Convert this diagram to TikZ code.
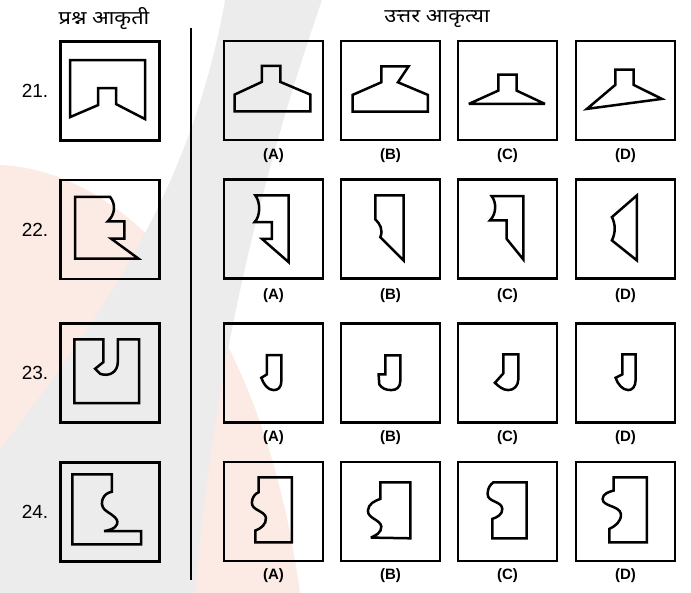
\documentclass[tikz,border=0pt]{standalone}
\usepackage{fontspec}
\setmainfont{Liberation Sans}
\newfontfamily\deva[Script=Devanagari]{Noto Sans}
\definecolor{wmpink}{HTML}{FCEAE5}
\definecolor{wmgray}{HTML}{ECECEC}
\begin{document}
\begin{tikzpicture}[x=1pt,y=-1pt,
  fig/.style={draw=black,line width=2.8pt,minimum size=99pt,inner sep=0pt},
  shp/.style={draw=black,line width=2.5pt,line join=miter,miter limit=4},
  qnum/.style={font=\fontsize{19}{19}\selectfont,anchor=center},
  lab/.style={font=\bfseries\fontsize{15}{15}\selectfont},
  head/.style={font=\deva\fontsize{19}{19}\selectfont,xscale=1.15}]
\useasboundingbox (0,0) rectangle (691,593);
% faint watermark
\fill[wmpink] (0,165) .. controls (120,170) and (260,300) .. (300,593) -- (0,593) -- cycle;
\fill[wmgray] (225,0) -- (322,0) .. controls (270,150) and (215,350) .. (195,593) -- (0,593) -- (0,450) .. controls (90,330) and (190,200) .. (225,0) -- cycle;
% header
\node[head] (h1) at (104,19) {प्रश्न आकृती};
\node[head] (h2) at (437,19) {उत्तर आकृत्या};
\coordinate (vt) at (191,28);
\coordinate (vb) at (191,580);
\draw[line width=1.6pt] (vt) -- (vb);
% question numbers
\node[qnum] (n21) at (35,91) {21.};
\node[qnum] (n22) at (35,230) {22.};
\node[qnum] (n23) at (35,373) {23.};
\node[qnum] (n24) at (35,512) {24.};
% question boxes
\node[fig] (q21) at (110,91) {};
\node[fig] (q22) at (110,229.5) {};
\node[fig] (q23) at (110,373) {};
\node[fig] (q24) at (110,512) {};
% answer boxes
\foreach \r/\y/\ly in {21/90.5/156,22/229/296,23/373/438,24/511.5/576}{
  \foreach \c/\x in {A/273.5,B/390.5,C/507.5,D/625.5}{
    \node[fig] (a\r\c) at (\x,\y) {};
    \node[lab] (l\r\c) at (\x,\ly) {(\c)};
  }
}
% ---- row 21
\draw[shp,shift={(q21.north west)}] (11,20) -- (86,20) -- (86,79) -- (57,64) -- (57,48) -- (39,48) -- (39,65) -- (11,77) -- cycle;
\draw[shp,shift={(a21A.north west)}] (39.3,26.3) -- (57.7,26.3) -- (57.7,42.3) -- (87.7,55) -- (87.7,71.7) -- (12,71.7) -- (12,55) -- (39.3,42.3) -- cycle;
\draw[shp,shift={(a21B.north west)}] (41.7,26.7) -- (69,26.7) -- (58.3,42.7) -- (88.3,55.3) -- (88.3,72) -- (13,72) -- (13,55.3) -- (41.7,42.7) -- cycle;
\draw[shp,shift={(a21C.north west)}] (41.7,35) -- (60,35) -- (60,51) -- (88.3,64.3) -- (12.3,64.3) -- (41.7,51) -- cycle;
\draw[shp,shift={(a21D.north west)}] (40.7,30) -- (59,30) -- (59,45.3) -- (87.3,59.3) -- (12.3,69.3) -- (40.7,45.3) -- cycle;
% ---- row 22
\draw[shp,shift={(q22.north west)}] (16,18.3) -- (51,18.3) .. controls (57,26) and (56,36) .. (48.7,42.7) -- (65.3,42.7) -- (65.3,60) -- (52,60) -- (79.3,80) -- (16,80) -- cycle;
\draw[shp,shift={(a22A.north west)}] (32.7,17.3) -- (66,17.3) -- (66,84) -- (39.3,60.7) -- (49.3,60.7) -- (49.3,44) -- (32,44) .. controls (38,38) and (38,24) .. (32.7,17.3) -- cycle;
\draw[shp,shift={(a22B.north west)}] (35.7,17.3) -- (64,17.3) -- (64,82.3) -- (40.7,59) .. controls (44,52) and (40,45) .. (35.7,41.3) -- cycle;
\draw[shp,shift={(a22C.north west)}] (35,18) -- (66.7,18) -- (66.7,81.3) -- (50,60.7) -- (50,42.3) -- (33.3,42.3) .. controls (40,36) and (40,24) .. (35,18) -- cycle;
\draw[shp,shift={(a22D.north west)}] (62.3,17.3) -- (62.3,82.3) -- (37.3,62.3) .. controls (41,55) and (41,46) .. (37.3,39) -- cycle;
% ---- row 23
\draw[shp,shift={(q23.north west)}] (15.3,17.3) -- (44.3,17.3) -- (44.3,40) -- (36,46.7) -- (41,51.7) .. controls (50,55) and (58.7,50) .. (58.7,40) -- (58.7,17.3) -- (80,17.3) -- (80,81) -- (15.3,81) -- cycle;
\draw[shp,shift={(a23A.north west)}] (44.3,33) -- (58.7,33) -- (58.7,59) .. controls (58.7,66) and (55,68) .. (51,68) .. controls (45,68) and (41,62) .. (38.7,55.7) -- (44.3,52.3) -- cycle;
\draw[shp,shift={(a23B.north west)}] (45.7,33.3) -- (60.7,33.3) -- (60.7,59) .. controls (60.7,65) and (57,68) .. (51.7,68) .. controls (46,68) and (42,66) .. (39.7,62.3) -- (39,52.3) -- (45.7,52.3) -- cycle;
\draw[shp,shift={(a23C.north west)}] (46.7,32.3) -- (61.7,32.3) -- (61.7,57.3) .. controls (61.7,64) and (57,68) .. (51.7,68) .. controls (46,68) and (42,64) .. (38.3,60.7) -- (46.7,51.3) -- cycle;
\draw[shp,shift={(a23D.north west)}] (47.7,32.3) -- (61,32.3) -- (61,58) .. controls (61,64) and (58,68) .. (53.7,68) .. controls (48,68) and (43,62) .. (41,55.7) -- (47.7,52.3) -- cycle;
% ---- row 24
\draw[shp,shift={(q24.north west)}] (13.3,13.3) -- (52.7,13.3) -- (52.7,30.7) .. controls (44,32) and (40,42) .. (45,48) .. controls (50,53) and (60,56) .. (58,63) .. controls (56,68) and (50,69) .. (45,70) -- (82,70) -- (82,83.3) -- (13.3,83.3) -- cycle;
\draw[shp,shift={(a24A.north west)}] (36,16.7) -- (69.3,16.7) -- (69.3,81.7) -- (32.7,81.7) -- (32.7,70) .. controls (38,68) and (44,64) .. (43.3,57) .. controls (42,50) and (29,50) .. (29.3,42) .. controls (29.5,36) and (33,33) .. (36,31.7) -- cycle;
\draw[shp,shift={(a24B.north west)}] (40.7,21.7) -- (70.7,21.7) -- (70.7,77.7) -- (31.3,77) .. controls (36,75) and (42,72) .. (41.7,66) .. controls (41,59) and (28,58) .. (28.3,50) .. controls (28.5,43) and (36,40) .. (40.7,38.3) -- cycle;
\draw[shp,shift={(a24C.north west)}] (36.7,21.7) -- (70,21.7) -- (70,77.7) -- (35.7,77.7) -- (35.7,58.3) .. controls (40,57) and (46,54) .. (45.7,48.3) .. controls (45,40) and (31,42) .. (31,33.3) .. controls (31,27) and (34,24) .. (36.7,21.7) -- cycle;
\draw[shp,shift={(a24D.north west)}] (39,16.7) -- (72.3,16.7) -- (72.3,81.7) -- (34.7,81.7) -- (34.7,68.3) .. controls (40,66) and (47,61) .. (46.3,53.3) .. controls (45,45) and (28,46) .. (28,38.3) .. controls (28,33) and (35,31) .. (39,30) -- cycle;
\end{tikzpicture}
\end{document}
